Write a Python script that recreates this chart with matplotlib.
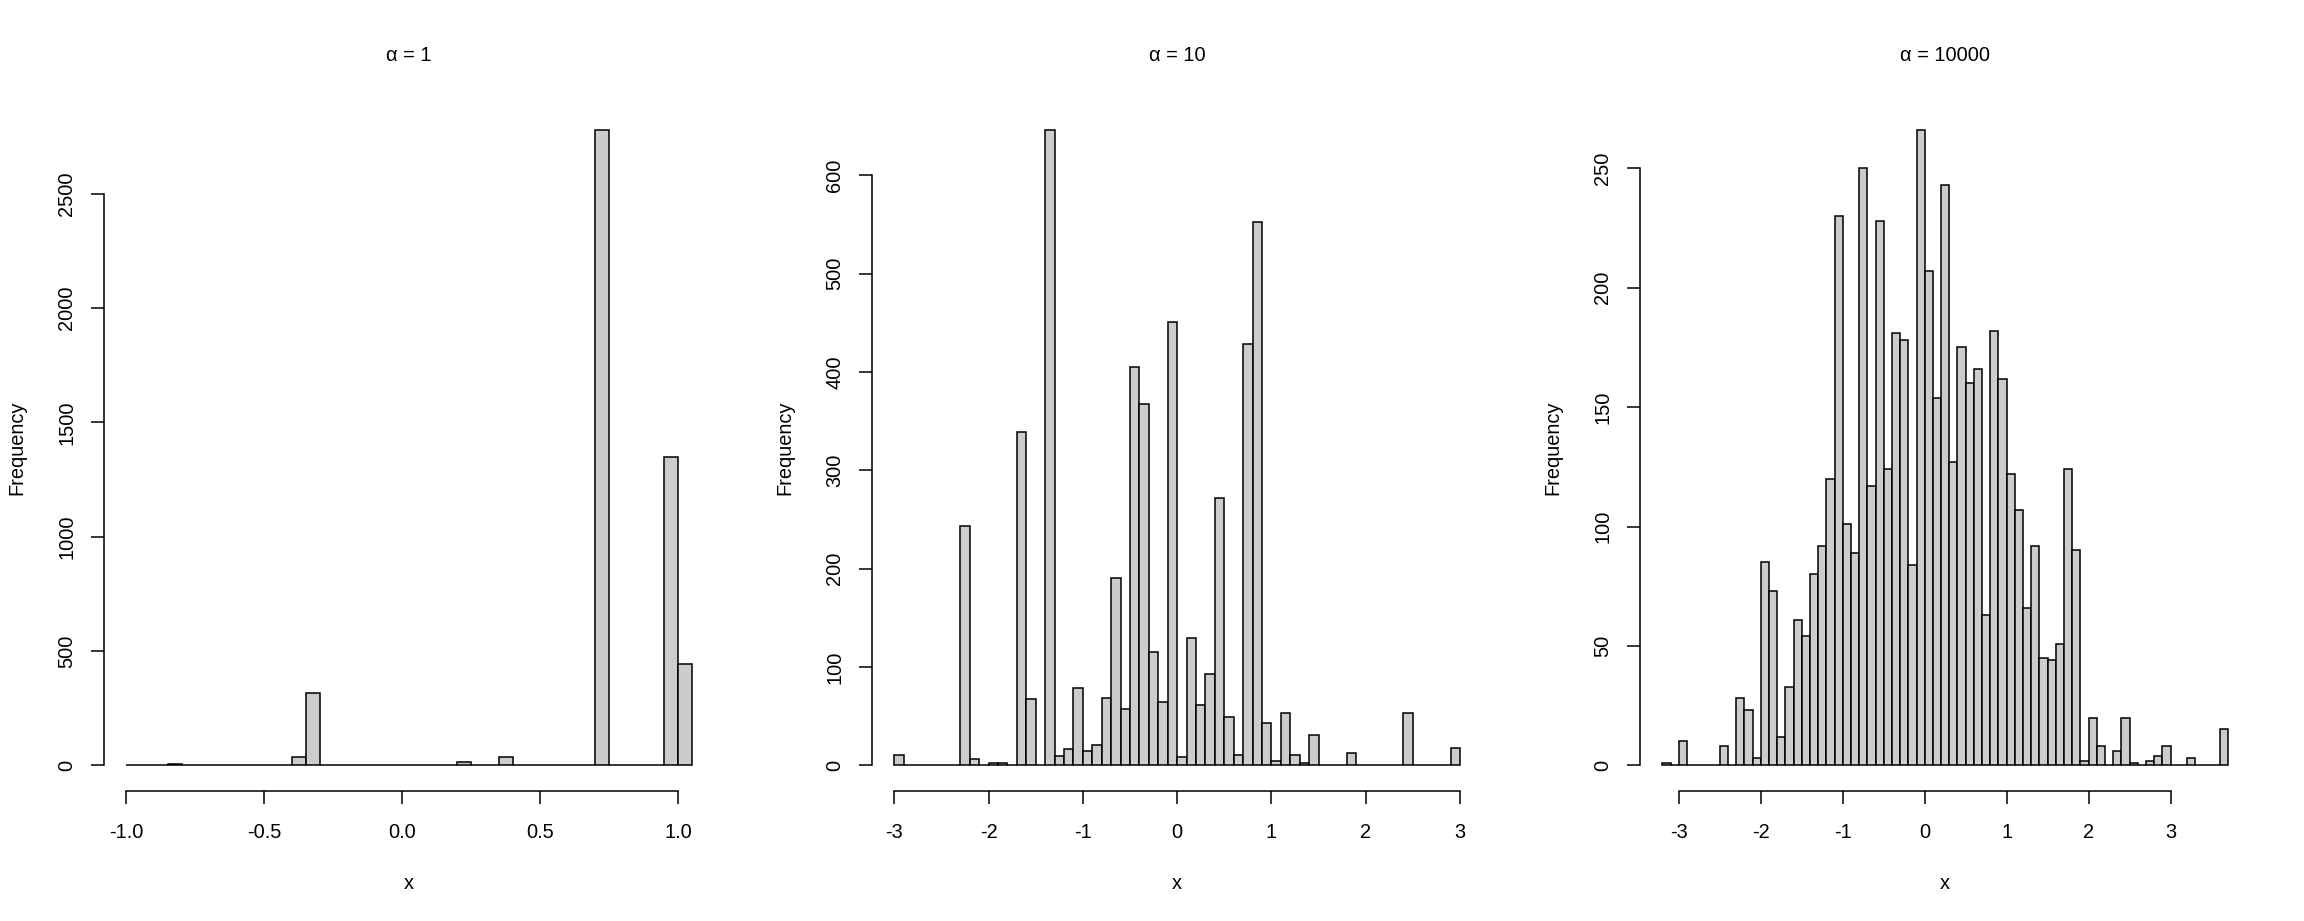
import matplotlib
matplotlib.use("Agg")
import matplotlib.pyplot as plt
import numpy as np
from matplotlib.transforms import ScaledTranslation

# ---------------- data ----------------
titles = ["\u03b1 = 1", "\u03b1 = 10", "\u03b1 = 10000"]

# panel 1: breaks from -1.0 by 0.05
start1, width1 = -1.0, 0.05
counts1 = [0, 0, 0, 6, 0, 0, 0, 0, 0, 0,
           2, 0, 35, 315, 0, 0, 0, 0, 0, 0,
           3, 0, 0, 0, 15, 0, 0, 35, 0, 0,
           3, 0, 0, 0, 2778, 0, 0, 0, 0, 1348,
           444]
xticks1 = [-1.0, -0.5, 0.0, 0.5, 1.0]
xlabels1 = ["-1.0", "-0.5", "0.0", "0.5", "1.0"]
yticks1 = [0, 500, 1000, 1500, 2000, 2500]

# panel 2: breaks from -3.0 by 0.1
start2, width2 = -3.0, 0.1
counts2 = [10, 0, 0, 0, 0, 0, 0, 243, 6, 0,
           2, 2, 0, 339, 67, 0, 646, 9, 17, 79,
           15, 21, 68, 191, 57, 405, 368, 115, 64, 451,
           8, 129, 61, 93, 272, 49, 10, 429, 553, 43,
           4, 53, 10, 2, 31, 0, 0, 0, 13, 0,
           0, 0, 0, 0, 53, 0, 0, 0, 0, 18]
xticks2 = [-3, -2, -1, 0, 1, 2, 3]
xlabels2 = ["-3", "-2", "-1", "0", "1", "2", "3"]
yticks2 = [0, 100, 200, 300, 400, 500, 600]

# panel 3: breaks from -3.2 by 0.1
start3, width3 = -3.2, 0.1
counts3 = [1, 0, 10, 0, 0, 0, 0, 8, 0, 28,
           23, 3, 85, 73, 12, 33, 61, 54, 80, 92,
           120, 230, 101, 89, 250, 117, 228, 124, 181, 178,
           84, 266, 207, 154, 243, 127, 175, 160, 166, 63,
           182, 162, 122, 107, 66, 92, 45, 44, 51, 124,
           90, 2, 20, 8, 0, 6, 20, 1, 0, 2,
           4, 8, 0, 0, 3, 0, 0, 0, 15]
xticks3 = [-3, -2, -1, 0, 1, 2, 3]
xlabels3 = ["-3", "-2", "-1", "0", "1", "2", "3"]
yticks3 = [0, 50, 100, 150, 200, 250]

panels = [
    (start1, width1, counts1, xticks1, xlabels1, yticks1),
    (start2, width2, counts2, xticks2, xlabels2, yticks2),
    (start3, width3, counts3, xticks3, xlabels3, yticks3),
]

# ---------------- layout ----------------
DPI = 100
W, H = 2304, 921
plt.rcParams['font.family'] = ['Liberation Sans', 'DejaVu Sans']
FS = 14.4
LW = 1.1
PT = 72.0 / DPI  # points per pixel

panel_w = 768
left_m = 103.7
plot_w = 611.0
top_m = 104.8
axis_y = 790.7

fig = plt.figure(figsize=(W / DPI, H / DPI), dpi=DPI)

for i, (start, width, counts, xt, xtl, yt) in enumerate(panels):
    ax = fig.add_axes([(panel_w * i + left_m) / W, (H - axis_y) / H,
                       plot_w / W, (axis_y - top_m) / H])
    n = len(counts)
    edges = start + width * np.arange(n + 1)
    ax.bar(edges[:-1], counts, width=width, align='edge',
           color='#CCCCCC', edgecolor='black', linewidth=LW)
    lo, hi = edges[0], edges[-1]
    rng = hi - lo
    ax.set_xlim(lo - 0.04 * rng, hi + 0.04 * rng)
    M = max(counts)
    ax.set_ylim(-0.04 * M, 1.04 * M)

    ax.set_xticks(xt)
    ax.set_xticklabels(xtl)
    ax.set_yticks(yt)
    ax.set_yticklabels([str(v) for v in yt])

    for s in ['top', 'right']:
        ax.spines[s].set_visible(False)
    ax.spines['left'].set_bounds(yt[0], yt[-1])
    ax.spines['bottom'].set_bounds(xt[0], xt[-1])
    ax.spines['left'].set_linewidth(LW)
    ax.spines['bottom'].set_linewidth(LW)

    ax.tick_params(direction='out', length=12.8 * PT, width=LW,
                   labelsize=FS, colors='black')
    ax.tick_params(axis='x', pad=19.7 * PT)
    ax.tick_params(axis='y', pad=14.6 * PT)
    for lab in ax.get_yticklabels():
        lab.set_rotation(90)
        lab.set_va('center')
        lab.set_ha('right')

    # title
    ax.text(0.5, 1.0, titles[i], transform=ax.transAxes +
            ScaledTranslation(0, 43.8 / DPI, fig.dpi_scale_trans),
            ha='center', va='baseline', fontsize=FS)
    # y label
    ax.text(0.0, 0.5, 'Frequency', transform=ax.transAxes +
            ScaledTranslation(-81.8 / DPI, 0, fig.dpi_scale_trans),
            rotation=90, rotation_mode='anchor',
            ha='center', va='baseline', fontsize=FS)
    # x label
    ax.text(0.5, 0.0, 'x', transform=ax.transAxes +
            ScaledTranslation(0, -98.0 / DPI, fig.dpi_scale_trans),
            ha='center', va='baseline', fontsize=FS)

fig.savefig('out.png', dpi=DPI)
